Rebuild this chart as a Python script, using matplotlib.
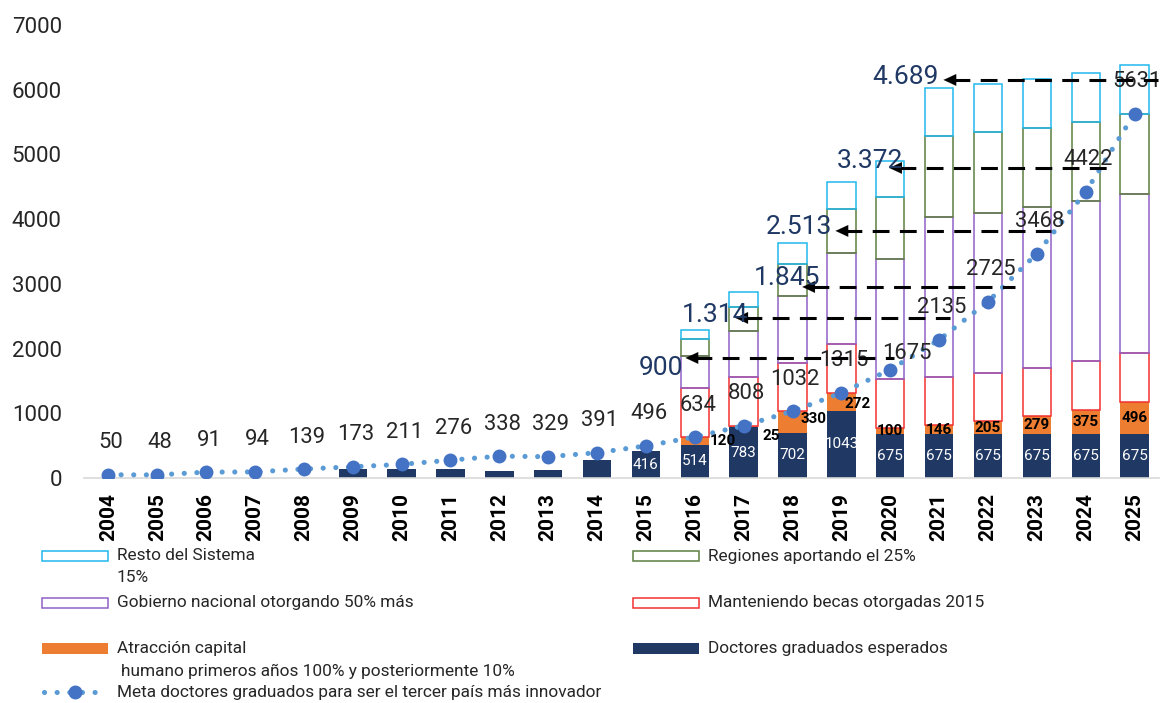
import numpy as np
import matplotlib.pyplot as plt
import matplotlib.patches as mpatches
from matplotlib.lines import Line2D

years = list(range(2004, 2026))

# stacked segments (bottom -> top)
doctores = [0, 0, 0, 0, 0, 145, 145, 145, 108, 127, 285, 416,
            514, 783, 702, 1043, 675, 675, 675, 675, 675, 675]
atraccion = [0] * 12 + [120, 25, 330, 272, 100, 146, 205, 279, 375, 496]
manteniendo = [0] * 12 + [752, 758, 750, 751, 750, 745, 748, 751, 757, 756]
gobierno = [0] * 12 + [500, 706, 1031, 1407, 1860, 2473, 2473, 2479, 2473, 2462]
regiones = [0] * 12 + [257, 376, 490, 680, 953, 1247, 1247, 1221, 1226, 1232]
resto = [0] * 12 + [144, 232, 324, 426, 561, 737, 737, 757, 748, 762]

meta = [50, 48, 91, 94, 139, 173, 211, 276, 338, 329, 391, 496,
        634, 808, 1032, 1315, 1675, 2135, 2725, 3468, 4422, 5631]

brechas = ["900", "1.314", "1.845", "2.513", "3.372", "4.689"]
brecha_nivel = [1855, 2473, 2952, 3818, 4791, 6151]

navy = "#203864"
orange = "#ED7D31"
red = "#F23030"
purple = "#9060C8"
green = "#5E7F3F"
cyan = "#22B8EE"
dot_big = "#4472C4"
dot_small = "#5B9BD5"
txt = "#262626"
numfont = ["Roboto", "DejaVu Sans"]
legfont = ["Roboto", "DejaVu Sans"]

W, H = 1166, 703
fig = plt.figure(figsize=(W / 100, H / 100), dpi=100)
ax = fig.add_axes([84 / W, 225 / H, 1075 / W, 453 / H])

x = np.arange(len(years))
w = 0.58

ax.bar(x, doctores, w, color=navy, zorder=2)
ax.bar(x, atraccion, w, bottom=doctores, color=orange, zorder=2)

base = np.array(doctores) + np.array(atraccion)
for vals, col in [(manteniendo, red), (gobierno, purple), (regiones, green), (resto, cyan)]:
    v = np.array(vals)
    m = v > 0
    ax.bar(x[m], v[m], w, bottom=base[m], facecolor="none", edgecolor=col,
           linewidth=1.1, zorder=2)
    base = base + v

# meta line
ax.plot(x, meta, color=dot_small, lw=3.7, dashes=(0.01, 2.45),
        dash_capstyle="round", zorder=4)
ax.plot(x, meta, ls="none", marker="o", ms=9, color=dot_big, zorder=5)

meta_off = {16: (12, 11.5)}
for i, v in enumerate(meta):
    dx, dy = meta_off.get(i, (2, 23))
    ax.annotate(str(v), (x[i], v), xytext=(dx, dy), textcoords="offset points",
                ha="center", va="center", fontsize=15.8, color=txt,
                family=numfont, zorder=6)

# labels inside navy bars
for i in range(11, len(years)):
    ax.text(x[i], doctores[i] / 2, str(doctores[i]), ha="center", va="center",
            fontsize=11, color="white", family=numfont, zorder=6)

# orange labels
orange_off = {12: (20, 0), 13: (20, -6.5), 14: (15, 2), 15: (11.5, -1.5)}
for i in range(12, len(years)):
    dx, dy = orange_off.get(i, (0, 0))
    ax.annotate(str(atraccion[i]), (x[i], doctores[i] + atraccion[i] / 2),
                xytext=(dx, dy), textcoords="offset points", ha="center",
                va="center", fontsize=11, fontweight="bold", color="black",
                family=numfont, zorder=6)

# dashed arrows
tips = [11.81, 12.83, 14.20, 14.88, 15.98, 17.09]
ends = [16.07, 17.23, 18.56, 19.28, 20.45, 21.47]
lab_pos = [(11.77, 1731), (13.10, 2550), (14.57, 3122),
           (14.82, 3910), (16.27, 4930), (16.99, 6228)]
for t, e, lvl, lab, (lx, ly) in zip(tips, ends, brecha_nivel, brechas, lab_pos):
    ax.plot([t + 0.2, e], [lvl, lvl], color="black", lw=2.2,
            dashes=(5.5, 3.4), zorder=7, solid_capstyle="butt")
    ax.annotate("", xy=(t, lvl), xytext=(t + 0.36, lvl),
                arrowprops=dict(arrowstyle="-|>,head_length=0.9,head_width=0.42",
                                color="black", lw=0.1, shrinkA=0, shrinkB=0),
                zorder=8)
    ax.text(lx, ly, lab, ha="right", va="center_baseline", fontsize=19,
            color="#1F3864", family=numfont, zorder=8)

ax.set_xlim(-0.5, len(years) - 0.5)
ax.set_ylim(0, 7000)
ax.set_yticks(range(0, 7001, 1000))
ax.set_xticks(x)
ax.set_xticklabels([str(y) for y in years], rotation=90, fontsize=15,
                   fontweight="bold", family=numfont, color="black")
for lab in ax.get_yticklabels():
    lab.set_family(numfont)
ax.tick_params(axis="y", length=0, pad=16, labelsize=16, labelcolor=txt)
ax.tick_params(axis="x", length=0, pad=11)
for s in ["top", "right", "left"]:
    ax.spines[s].set_visible(False)
ax.spines["bottom"].set_color("#D9D9D9")
ax.spines["bottom"].set_linewidth(1.2)


# manual legend (pixel layout)
def fx(px):
    return px / W


def fy(py):
    return 1 - py / H


leg = [
    (42, 556, "outline", cyan, "Resto del Sistema"),
    (633, 556, "outline", green, "Regiones aportando el 25%"),
    (42, 603, "outline", purple, "Gobierno nacional otorgando 50% más"),
    (633, 603, "outline", red, "Manteniendo becas otorgadas 2015"),
    (42, 648, "fill", orange, "Atracción capital"),
    (633, 648, "fill", navy, "Doctores graduados esperados"),
]
LFS = 12.4
for px, py, kind, col, lab in leg:
    if kind == "outline":
        r = mpatches.Rectangle((fx(px), fy(py + 5)), 66 / W, 10 / H,
                               transform=fig.transFigure, facecolor="white",
                               edgecolor=col, lw=1.1)
    else:
        r = mpatches.Rectangle((fx(px), fy(py + 5.5)), 66 / W, 11 / H,
                               transform=fig.transFigure, facecolor=col,
                               edgecolor="none")
    fig.add_artist(r)
    fig.text(fx(px + 75), fy(py), lab, ha="left", va="center", fontsize=LFS,
             color=txt, family=legfont)

fig.text(fx(117), fy(578), "15%", ha="left", va="center", fontsize=LFS,
         color=txt, family=legfont)
fig.text(fx(121), fy(671), "humano primeros años 100% y posteriormente 10%",
         ha="left", va="center", fontsize=LFS, color=txt, family=legfont)

fig.add_artist(Line2D([fx(44), fx(106)], [fy(692), fy(692)], transform=fig.transFigure,
                      color=dot_small, lw=3.7, dashes=(0.01, 2.45),
                      dash_capstyle="round"))
fig.add_artist(Line2D([fx(75)], [fy(692)], transform=fig.transFigure, ls="none",
                      marker="o", ms=9, color=dot_big))
fig.text(fx(117), fy(692), "Meta doctores graduados para ser el tercer país más innovador",
         ha="left", va="center", fontsize=LFS, color=txt, family=legfont)

fig.savefig("out.png", dpi=100, facecolor="white")
